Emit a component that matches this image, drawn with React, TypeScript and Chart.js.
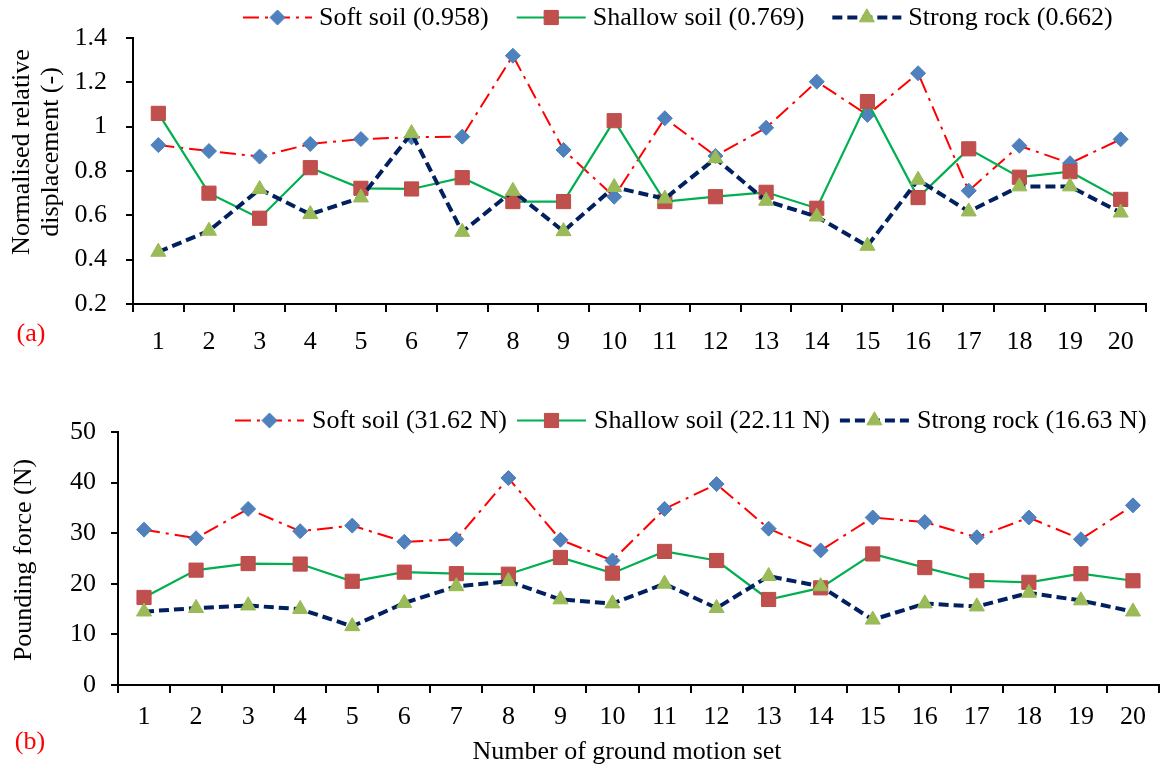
import React, { useEffect, useRef } from "react";
import { Chart, registerables } from "chart.js";

Chart.register(...registerables);

// Ground motion sets on the horizontal axis
const motionSets = ["1", "2", "3", "4", "5", "6", "7", "8", "9", "10", "11", "12", "13", "14", "15", "16", "17", "18", "19", "20"];

// (a) Normalised relative displacement (-)
const dispSoftSoil = [0.917, 0.89, 0.865, 0.922, 0.944, 0.952, 0.955, 1.32, 0.895, 0.684, 1.038, 0.868, 0.995, 1.203, 1.053, 1.241, 0.711, 0.914, 0.835, 0.943];
const dispShallowSoil = [1.06, 0.7, 0.587, 0.815, 0.722, 0.719, 0.77, 0.662, 0.662, 1.027, 0.662, 0.684, 0.704, 0.632, 1.113, 0.68, 0.9, 0.772, 0.797, 0.672];
const dispStrongRock = [0.435, 0.53, 0.718, 0.605, 0.68, 0.97, 0.525, 0.71, 0.528, 0.727, 0.675, 0.857, 0.665, 0.594, 0.462, 0.76, 0.617, 0.73, 0.73, 0.612];

// (b) Pounding force (N)
const forceSoftSoil = [30.7, 29.0, 34.8, 30.4, 31.5, 28.3, 28.8, 40.9, 28.7, 24.6, 34.8, 39.7, 30.9, 26.6, 33.1, 32.2, 29.2, 33.1, 28.8, 35.5];
const forceShallowSoil = [17.3, 22.7, 24.0, 23.9, 20.5, 22.3, 22.0, 21.9, 25.2, 22.1, 26.4, 24.6, 16.9, 19.2, 25.9, 23.2, 20.6, 20.3, 22.0, 20.6];
const forceStrongRock = [14.5, 15.2, 15.7, 15.0, 11.6, 16.2, 19.5, 20.5, 16.9, 16.1, 20.0, 15.2, 21.5, 19.5, 12.9, 16.1, 15.5, 18.2, 16.7, 14.5];

// Legend entries (mean values in brackets)
const dispLegend = ["Soft soil (0.958)", "Shallow soil (0.769)", "Strong rock (0.662)"];
const forceLegend = ["Soft soil (31.62 N)", "Shallow soil (22.11 N)", "Strong rock (16.63 N)"];

// Axis ticks
const dispTicks = [0.2, 0.4, 0.6, 0.8, 1.0, 1.2, 1.4];
const forceTicks = [0, 10, 20, 30, 40, 50];

// Titles and panel tags
const dispYTitle = ["Normalised relative", "displacement (-)"];
const forceYTitle = ["Pounding force (N)"];
const xTitle = "Number of ground motion set";
const panelTags = ["(a)", "(b)"];

const FONT_FAMILY = '"Liberation Serif", "Times New Roman", Times, serif';
const FONT_SIZE = 26;

type SeriesStyle = {
  line: string;
  dash: number[];
  width: number;
  marker: "rectRot" | "rect" | "triangle";
  fill: string;
  edge: string;
  radius: number;
};

const SERIES_STYLE: SeriesStyle[] = [
  { line: "#FF0000", dash: [16, 6, 3, 6], width: 2, marker: "rectRot", fill: "#4F81BD", edge: "#4A7EBB", radius: 7.5 },
  { line: "#00B050", dash: [], width: 2.2, marker: "rect", fill: "#C0504D", edge: "#BE4B48", radius: 10 },
  { line: "#002060", dash: [10, 5], width: 4, marker: "triangle", fill: "#9BBB59", edge: "#98B954", radius: 8.7 },
];

function drawMarker(ctx: CanvasRenderingContext2D, s: SeriesStyle, x: number, y: number) {
  const r = s.radius;
  ctx.save();
  ctx.setLineDash([]);
  ctx.fillStyle = s.fill;
  ctx.strokeStyle = s.edge;
  ctx.lineWidth = 1;
  ctx.beginPath();
  if (s.marker === "rectRot") {
    ctx.moveTo(x - r, y);
    ctx.lineTo(x, y - r);
    ctx.lineTo(x + r, y);
    ctx.lineTo(x, y + r);
    ctx.closePath();
  } else if (s.marker === "rect") {
    const h = r * Math.SQRT1_2;
    ctx.rect(x - h, y - h, 2 * h, 2 * h);
  } else {
    for (let k = 0; k < 3; k++) {
      const a = -Math.PI / 2 + (k * 2 * Math.PI) / 3;
      const px = x + Math.cos(a) * r;
      const py = y + Math.sin(a) * r;
      if (k === 0) ctx.moveTo(px, py);
      else ctx.lineTo(px, py);
    }
    ctx.closePath();
  }
  ctx.fill();
  ctx.stroke();
  ctx.restore();
}

// Legend with a line sample, the marker centred on it, then the label
const lineLegendPlugin = {
  id: "lineLegend",
  afterDraw(chart: any, _args: any, opts: any) {
    if (!opts || !opts.labels) return;
    const ctx: CanvasRenderingContext2D = chart.ctx;
    ctx.save();
    ctx.font = `${FONT_SIZE}px ${FONT_FAMILY}`;
    ctx.textAlign = "left";
    ctx.textBaseline = "alphabetic";
    let x = opts.startX;
    const y = opts.y;
    opts.labels.forEach((label: string, i: number) => {
      const s = SERIES_STYLE[i];
      ctx.save();
      ctx.strokeStyle = s.line;
      ctx.lineWidth = s.width;
      ctx.setLineDash(s.dash);
      ctx.lineCap = "butt";
      ctx.beginPath();
      ctx.moveTo(x, y);
      ctx.lineTo(x + opts.lineLen, y);
      ctx.stroke();
      ctx.restore();
      drawMarker(ctx, s, x + opts.lineLen / 2, y);
      const tx = x + opts.lineLen + opts.textGap;
      ctx.fillStyle = "#000";
      ctx.fillText(label, tx, y + 7);
      x = tx + ctx.measureText(label).width + opts.itemGap;
    });
    ctx.restore();
  },
};

// Axis titles and panel tag
const annotationPlugin = {
  id: "panelText",
  afterDraw(chart: any, _args: any, opts: any) {
    if (!opts) return;
    const ctx: CanvasRenderingContext2D = chart.ctx;
    ctx.save();
    ctx.font = `${FONT_SIZE}px ${FONT_FAMILY}`;
    // panel tag
    ctx.fillStyle = "#FF0000";
    ctx.textAlign = "center";
    ctx.textBaseline = "alphabetic";
    ctx.fillText(opts.tag, opts.tagX, opts.tagY);
    // y title (rotated)
    ctx.fillStyle = "#000";
    ctx.textBaseline = "middle";
    opts.yTitle.forEach((line: string, i: number) => {
      ctx.save();
      ctx.translate(opts.yTitleX[i], opts.yTitleY);
      ctx.rotate(-Math.PI / 2);
      ctx.fillText(line, 0, 0);
      ctx.restore();
    });
    // x title
    if (opts.xTitle) {
      ctx.textBaseline = "alphabetic";
      ctx.fillText(opts.xTitle, opts.xTitleX, opts.xTitleY);
    }
    ctx.restore();
  },
};

function buildDatasets(series: number[][]) {
  return series.map((data, i) => {
    const s = SERIES_STYLE[i];
    return {
      data,
      borderColor: s.line,
      borderWidth: s.width,
      borderDash: s.dash,
      borderCapStyle: "butt" as const,
      tension: 0,
      fill: false,
      pointStyle: s.marker,
      pointRadius: s.radius,
      pointBackgroundColor: s.fill,
      pointBorderColor: s.edge,
      pointBorderWidth: 1,
      order: 3 - i,
    };
  });
}

type PanelSpec = {
  height: number;
  series: number[][];
  yMin: number;
  yMax: number;
  yTicks: number[];
  fmt: (v: number) => string;
  padTop: number;
  padRight: number;
  yWidth: number;
  xHeight: number;
  xTickPad: number;
  yTickPad: number;
  legend: any;
  text: any;
};

function Panel({ spec }: { spec: PanelSpec }) {
  const ref = useRef<HTMLCanvasElement | null>(null);
  useEffect(() => {
    if (!ref.current) return;
    const tickFont = { family: FONT_FAMILY, size: FONT_SIZE };
    const chart = new Chart(ref.current, {
      type: "line",
      data: { labels: motionSets, datasets: buildDatasets(spec.series) as any },
      options: {
        responsive: false,
        animation: false,
        events: [],
        layout: { padding: { top: spec.padTop, right: spec.padRight, left: 0, bottom: 0 } },
        plugins: {
          legend: { display: false },
          tooltip: { enabled: false },
          lineLegend: spec.legend,
          panelText: spec.text,
        } as any,
        scales: {
          x: {
            type: "category",
            offset: true,
            grid: {
              offset: true,
              drawOnChartArea: false,
              drawTicks: true,
              tickLength: 8,
              color: "#000",
              lineWidth: 2,
            },
            border: { display: true, color: "#000", width: 2 },
            ticks: { font: tickFont, color: "#000", padding: spec.xTickPad, maxRotation: 0, autoSkip: false },
            afterFit: (s: any) => {
              s.height = spec.xHeight;
            },
          },
          y: {
            min: spec.yMin,
            max: spec.yMax,
            afterBuildTicks: (s: any) => {
              s.ticks = spec.yTicks.map((v) => ({ value: v }));
            },
            grid: {
              drawOnChartArea: false,
              drawTicks: true,
              tickLength: 7,
              color: "#000",
              lineWidth: 2,
            },
            border: { display: true, color: "#000", width: 2 },
            ticks: {
              font: tickFont,
              color: "#000",
              padding: spec.yTickPad,
              callback: (v: any) => spec.fmt(Number(v)),
            },
            afterFit: (s: any) => {
              s.width = spec.yWidth;
            },
          },
        },
      },
      plugins: [lineLegendPlugin, annotationPlugin],
    });
    return () => chart.destroy();
  }, [spec]);
  return <canvas ref={ref} width={1170} height={spec.height} style={{ display: "block" }} />;
}

const fmtDisp = (v: number) => v.toFixed(1).replace(/\.0$/, "");
const fmtForce = (v: number) => String(Math.round(v));

const topSpec: PanelSpec = {
  height: 365,
  series: [dispSoftSoil, dispShallowSoil, dispStrongRock],
  yMin: 0.2,
  yMax: 1.4,
  yTicks: dispTicks,
  fmt: fmtDisp,
  padTop: 38,
  padRight: 24,
  yWidth: 133,
  xHeight: 61,
  xTickPad: 15,
  yTickPad: 19,
  legend: { labels: dispLegend, startX: 243, y: 17.5, lineLen: 69, textGap: 7, itemGap: 28 },
  text: {
    tag: panelTags[0],
    tagX: 31,
    tagY: 341,
    yTitle: dispYTitle,
    yTitleX: [22, 51],
    yTitleY: 152,
  },
};

const bottomSpec: PanelSpec = {
  height: 399,
  series: [forceSoftSoil, forceShallowSoil, forceStrongRock],
  yMin: 0,
  yMax: 50,
  yTicks: forceTicks,
  fmt: fmtForce,
  padTop: 67,
  padRight: 2,
  yWidth: 118,
  xHeight: 79,
  xTickPad: 9,
  yTickPad: 15,
  legend: { labels: forceLegend, startX: 235, y: 55.5, lineLen: 69, textGap: 8, itemGap: 10 },
  text: {
    tag: panelTags[1],
    tagX: 30,
    tagY: 384,
    yTitle: forceYTitle,
    yTitleX: [24],
    yTitleY: 195,
    xTitle: xTitle,
    xTitleX: 627,
    xTitleY: 394,
  },
};

export default function App() {
  return (
    <div
      style={{
        position: "absolute",
        left: 0,
        top: 0,
        width: 1170,
        height: 764,
        background: "#fff",
        overflow: "hidden",
      }}
    >
      <Panel spec={topSpec} />
      <Panel spec={bottomSpec} />
    </div>
  );
}
